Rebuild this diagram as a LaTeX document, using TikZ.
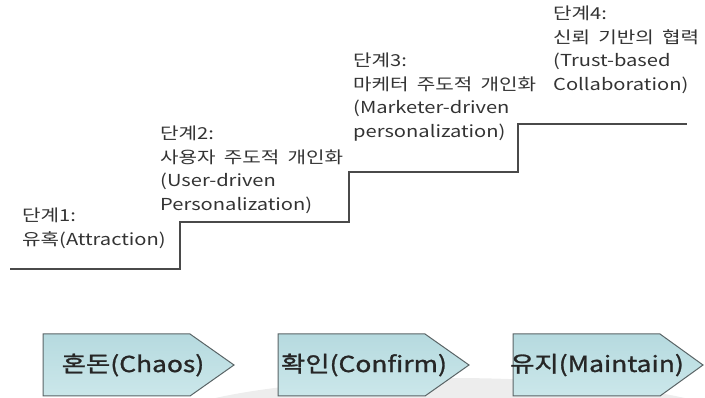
\documentclass[tikz,border=0pt]{standalone}
\usepackage{fontspec}
\setmainfont[FakeStretch=1.22, WordSpace=1.8]{Noto Sans CJK KR}
\newfontfamily\phasefont[FakeStretch=1.2, FakeBold=1.2]{Noto Sans CJK KR}
\usepackage{xcolor}
\usetikzlibrary{calc, positioning}

\definecolor{stairgray}{HTML}{4A4A4A}
\definecolor{phasetop}{HTML}{B6DADF}
\definecolor{phasebot}{HTML}{CBE7EA}
\definecolor{phaseedge}{HTML}{5A6466}

\begin{document}
\begin{tikzpicture}[x=1pt, y=-1pt,
    stagetext/.style={anchor=north west, inner sep=0pt, align=left, text=black!80,
        font=\fontsize{16.5}{23.5}\selectfont},
    phasebox/.style={draw=phaseedge, line width=1pt, top color=phasetop, bottom color=phasebot},
    phasetext/.style={inner sep=0pt, text=black!85, font=\phasefont\fontsize{22}{24}\selectfont}]
        % 그림 크기 고정
        \useasboundingbox (0,0) rectangle (705,398);

        % 배경의 옅은 회색 호
        \fill[black!7] (450,431) ellipse [x radius=300, y radius=53];

        % 계단 모서리 좌표
        \coordinate (P0) at (10,269);
        \coordinate (P1) at (180,269);
        \coordinate (P2) at (180,222);
        \coordinate (P3) at (349,222);
        \coordinate (P4) at (349,172);
        \coordinate (P5) at (518,172);
        \coordinate (P6) at (518,124);
        \coordinate (P7) at (687,124);

        % 계단 그리기
        \draw[stairgray, line width=1.2pt] (P0) -- (P1) -- (P2) -- (P3) -- (P4) -- (P5) -- (P6) -- (P7);

        % 단계 설명
        \node[stagetext] (s1) at (22,208) {단계1:\\유혹(Attraction)};
        \node[stagetext] (s2) at (160,126) {단계2:\\사용자 주도적 개인화\\(User-driven\\Personalization)};
        \node[stagetext] (s3) at (353,53) {단계3:\\마케터 주도적 개인화\\(Marketer-driven\\personalization)};
        \node[stagetext] (s4) at (553,6) {단계4:\\신뢰 기반의 협력\\(Trust-based\\Collaboration)};

        % 아래쪽 화살표 상자 (혼돈)
        \draw[phasebox] (43,334) -- (190,334) -- (234,365) -- (190,396) -- (43,396) -- cycle;
        \node[phasetext] (chaos) at (133,365) {혼돈(Chaos)};

        % 확인
        \draw[phasebox] (278,334) -- (425,334) -- (469,365) -- (425,396) -- (278,396) -- cycle;
        \node[phasetext] (confirm) at (364,365) {확인(Confirm)};

        % 유지
        \draw[phasebox] (513,334) -- (660,334) -- (703,365) -- (660,396) -- (513,396) -- cycle;
        \node[phasetext] (maintain) at (597,365) {유지(Maintain)};

    \end{tikzpicture}
\end{document}
